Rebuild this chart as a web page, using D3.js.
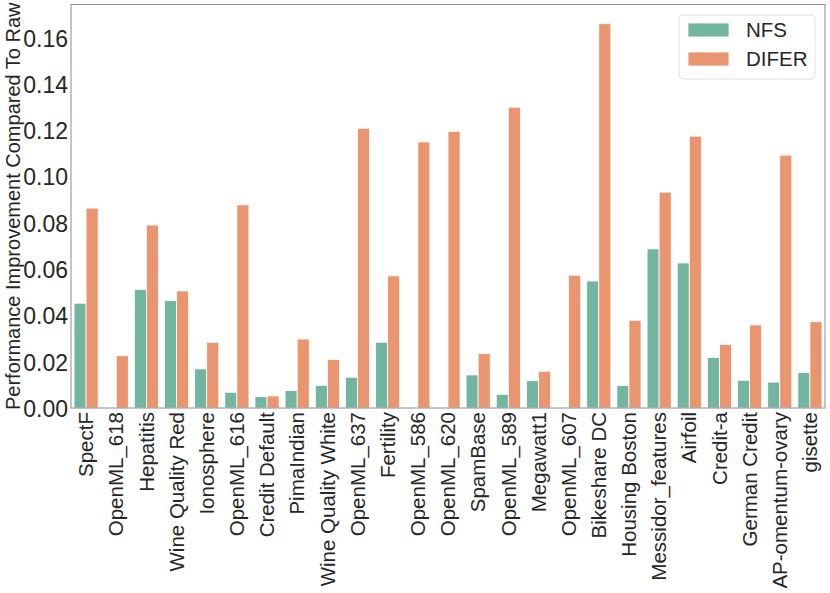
<!DOCTYPE html>
<html lang="en">
	<head>
		<meta charset="utf-8">
		<title>NFS vs DIFER</title>
		<script src="https://cdn.jsdelivr.net/npm/d3@7"></script>
		<style type="text/css">
			body { margin: 0; background: #fff; }
			text { font-family: "Liberation Sans", Arial, sans-serif; fill: #262626; }
		</style>
	</head>
	<body>
		<script type="text/javascript">

			// chart size
			const w = 830;
			const h = 593;
			const margin = {top: 4.5, right: 5, bottom: 185, left: 71};

			const datasets = ["SpectF", "OpenML_618", "Hepatitis", "Wine Quality Red", "Ionosphere",
				"OpenML_616", "Credit Default", "PimaIndian", "Wine Quality White", "OpenML_637",
				"Fertility", "OpenML_586", "OpenML_620", "SpamBase", "OpenML_589", "Megawatt1",
				"OpenML_607", "Bikeshare DC", "Housing Boston", "Messidor_features", "Airfoil",
				"Credit-a", "German Credit", "AP-omentum-ovary", "gisette"];

			const nfs = [0.0453, 0, 0.0513, 0.0464, 0.0169, 0.0068, 0.0049, 0.0076, 0.0098, 0.0133,
				0.0284, 0, 0, 0.0143, 0.0059, 0.0118, 0, 0.0549, 0.0097, 0.0688, 0.0627,
				0.0218, 0.0120, 0.0112, 0.0153];

			const difer = [0.0864, 0.0226, 0.0791, 0.0506, 0.0284, 0.0878, 0.0052, 0.0298, 0.0210, 0.1209,
				0.0571, 0.1150, 0.1196, 0.0236, 0.1300, 0.0159, 0.0574, 0.1661, 0.0379, 0.0933, 0.1175,
				0.0275, 0.0359, 0.1093, 0.0373];

			const methods = ["NFS", "DIFER"];
			const colors = ["#72b6a1", "#e9956f"];
			const yTicks = [0, 0.02, 0.04, 0.06, 0.08, 0.10, 0.12, 0.14, 0.16];

			const series = [nfs, difer];

			const xScale = d3.scaleBand()
				.domain(datasets)
				.range([margin.left, w - margin.right])
				.paddingInner(0.2)
				.paddingOuter(0.1);

			const inner = d3.scaleBand()
				.domain(methods)
				.range([0, xScale.bandwidth()]);

			const yMax = d3.max(series, s => d3.max(s)) * 1.05;
			const yScale = d3.scaleLinear()
				.domain([0, yMax])
				.range([h - margin.bottom, margin.top]);

			const svg = d3.select("body")
				.append("svg")
				.attr("width", w)
				.attr("height", h);

			// bars
			methods.forEach((m, mi) => {
				svg.append("g")
					.selectAll("rect")
					.data(datasets)
					.enter()
					.append("rect")
					.attr("x", d => xScale(d) + inner(m))
					.attr("width", inner.bandwidth())
					.attr("y", (d, i) => yScale(series[mi][i]))
					.attr("height", (d, i) => yScale(0) - yScale(series[mi][i]))
					.attr("fill", colors[mi])
					.attr("stroke", "#fff")
					.attr("stroke-width", 0.8);
			});

			// axes
			const xAxis = d3.axisBottom(xScale).tickSize(0).tickPadding(4);
			const yAxis = d3.axisLeft(yScale).tickValues(yTicks).tickSize(0).tickPadding(3)
				.tickFormat(d3.format(".2f"));

			const gx = svg.append("g")
				.attr("transform", "translate(0," + (h - margin.bottom) + ")")
				.call(xAxis);
			gx.select(".domain").remove();
			gx.selectAll("text")
				.attr("font-size", 20.5)
				.attr("transform", "rotate(-90)")
				.attr("x", -4)
				.attr("y", 0)
				.attr("dy", "0.35em")
				.style("text-anchor", "end");

			const gy = svg.append("g")
				.attr("transform", "translate(" + margin.left + ",0)")
				.call(yAxis);
			gy.select(".domain").remove();
			gy.selectAll("text").attr("font-size", 23).attr("dy", "0.36em");

			// frame
			svg.append("rect")
				.attr("x", margin.left)
				.attr("y", margin.top)
				.attr("width", w - margin.right - margin.left)
				.attr("height", h - margin.bottom - margin.top)
				.attr("fill", "none")
				.attr("stroke", "#8c8c8c")
				.attr("stroke-width", 1);

			// y label
			svg.append("text")
				.attr("transform", "translate(20," + ((h - margin.bottom + margin.top) / 2) + ") rotate(-90)")
				.attr("text-anchor", "middle")
				.attr("font-size", 20)
				.text("Performance Improvement Compared To Raw");

			// legend
			const lg = svg.append("g").attr("transform", "translate(679,15)");
			lg.append("rect")
				.attr("width", 136)
				.attr("height", 64)
				.attr("rx", 4)
				.attr("fill", "#fff")
				.attr("fill-opacity", 0.8)
				.attr("stroke", "#e0e0e0");
			methods.forEach((m, i) => {
				lg.append("rect")
					.attr("x", 9)
					.attr("y", 8 + i * 29)
					.attr("width", 41)
					.attr("height", 14)
					.attr("fill", colors[i])
					.attr("stroke", "#fff")
					.attr("stroke-width", 0.8);
				lg.append("text")
					.attr("x", 67)
					.attr("y", 15 + i * 29)
					.attr("dy", "0.35em")
					.attr("font-size", 20.5)
					.text(m);
			});

		</script>
	</body>
</html>
